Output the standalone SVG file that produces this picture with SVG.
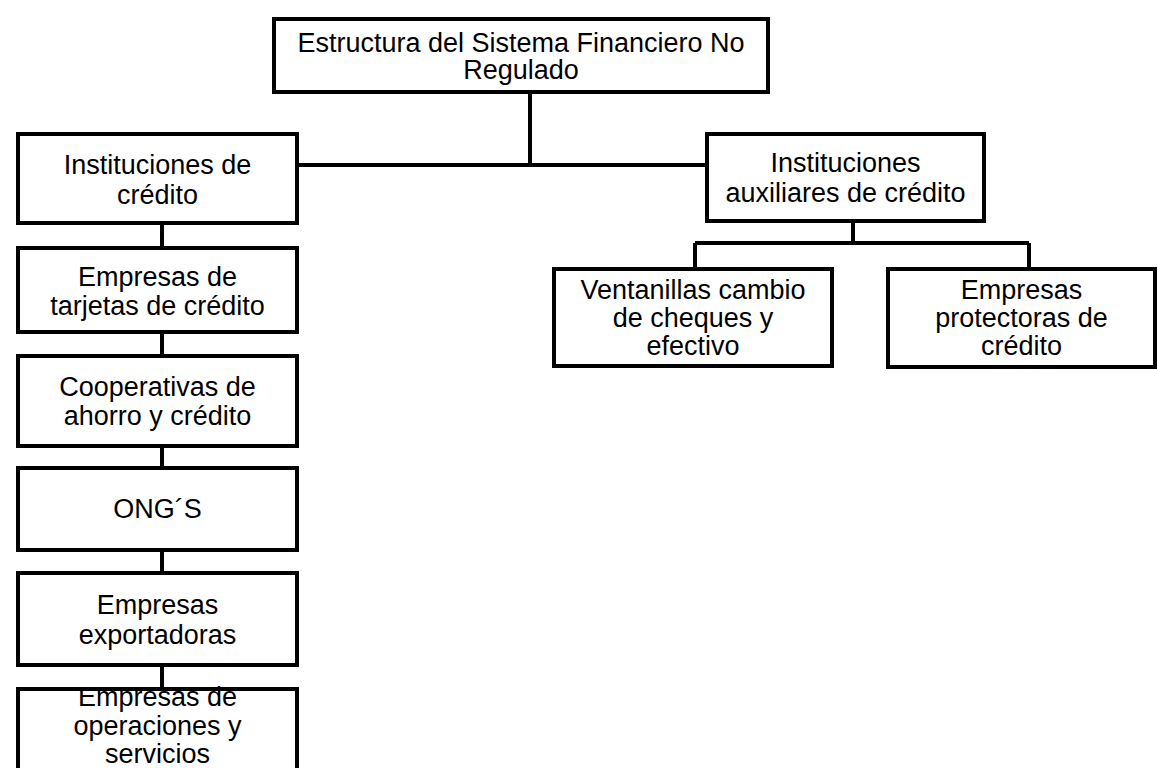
<svg xmlns="http://www.w3.org/2000/svg" width="1157" height="768" viewBox="0 0 1157 768">
<style>
.box{fill:#fff;stroke:#000;stroke-width:4}
.t{font-family:"Liberation Sans",Arial,sans-serif;font-size:27px;fill:#000;text-anchor:middle}
.c{stroke:#000;stroke-width:4;fill:none}
</style>
<rect width="1157" height="768" fill="#fff"/>
<g id="connectors">
<path class="c" d="M530 92V165M297 165H706"/>
<path class="c" d="M162 223V248M162 332V356M162 446V468M162 550V573M162 665V689"/>
<path class="c" d="M853 221V243M695 243H1029M695 243V269M1029 243V269"/>
</g>
<g id="root">
<rect class="box" x="274" y="19" width="494" height="73"/>
<text class="t" x="521" y="52">Estructura del Sistema Financiero No</text>
<text class="t" x="521" y="79">Regulado</text>
</g>
<g id="inst-credito">
<rect class="box" x="18" y="134" width="279" height="89"/>
<text class="t" x="157.5" y="174">Instituciones de</text>
<text class="t" x="157.5" y="204">crédito</text>
</g>
<g id="tarjetas">
<rect class="box" x="18" y="248" width="279" height="84"/>
<text class="t" x="157.5" y="286">Empresas de</text>
<text class="t" x="157.5" y="315">tarjetas de crédito</text>
</g>
<g id="cooperativas">
<rect class="box" x="18" y="356" width="279" height="90"/>
<text class="t" x="157.5" y="396">Cooperativas de</text>
<text class="t" x="157.5" y="425">ahorro y crédito</text>
</g>
<g id="ongs">
<rect class="box" x="18" y="468" width="279" height="82"/>
<text class="t" x="157.5" y="518">ONG´S</text>
</g>
<g id="exportadoras">
<rect class="box" x="18" y="573" width="279" height="92"/>
<text class="t" x="157.5" y="614">Empresas</text>
<text class="t" x="157.5" y="644">exportadoras</text>
</g>
<g id="operaciones">
<rect class="box" x="18" y="689" width="279" height="100"/>
<text class="t" x="157.5" y="706">Empresas de</text>
<text class="t" x="157.5" y="735">operaciones y</text>
<text class="t" x="157.5" y="763">servicios</text>
</g>
<g id="inst-auxiliares">
<rect class="box" x="707" y="134" width="277" height="87"/>
<text class="t" x="845.5" y="172">Instituciones</text>
<text class="t" x="845.5" y="202">auxiliares de crédito</text>
</g>
<g id="ventanillas">
<rect class="box" x="554" y="269" width="278" height="97"/>
<text class="t" x="693" y="299">Ventanillas cambio</text>
<text class="t" x="693" y="327">de cheques y</text>
<text class="t" x="693" y="355">efectivo</text>
</g>
<g id="protectoras">
<rect class="box" x="888" y="269" width="267" height="98"/>
<text class="t" x="1021.5" y="299">Empresas</text>
<text class="t" x="1021.5" y="327">protectoras de</text>
<text class="t" x="1021.5" y="355">crédito</text>
</g>
</svg>
